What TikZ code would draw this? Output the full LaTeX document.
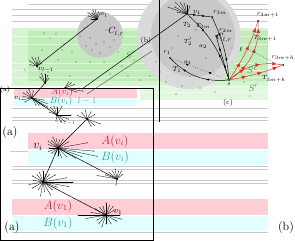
\documentclass[tikz,border=0pt]{standalone}
\usepackage{xcolor}
\usepackage{tikz}
\usetikzlibrary{arrows.meta,positioning,decorations.markings}
\definecolor{BandPink}{RGB}{255,205,214}
\definecolor{BandCyan}{RGB}{226,255,255}
\definecolor{LabelRed}{RGB}{200,30,50}
\definecolor{LabelTeal}{RGB}{20,160,170}
\definecolor{LabelGreen}{RGB}{60,150,80}
\definecolor{ZoneGreen}{RGB}{214,244,210}
\definecolor{ZoneGreenDark}{RGB}{192,236,186}
\definecolor{DiscGray}{RGB}{200,200,200}
\definecolor{DiscGrayLight}{RGB}{218,218,218}
\definecolor{RuleGray}{RGB}{200,200,200}
\definecolor{DotGray}{RGB}{90,90,90}
\definecolor{PathRed}{RGB}{230,40,40}

\newcommand{\hubspokes}[2]{\foreach \a/\r in {#2}{\draw[spoke] (#1.center) -- +(\a:\r) node[tip] {};}}

\begin{document}
\begin{tikzpicture}[x=1pt, y=-1pt,
  hub/.style={circle, fill=black, inner sep=0pt, minimum size=2pt},
  tip/.style={circle, fill=DotGray, inner sep=0pt, minimum size=1.3pt},
  speck/.style={circle, fill=DotGray, inner sep=0pt, minimum size=1.4pt},
  spoke/.style={draw=black, line width=0.3pt},
  edge/.style={draw=black, line width=0.5pt},
  rule/.style={draw=RuleGray, line width=0.8pt},
  lbl/.style={inner sep=0.5pt, font=\scriptsize},
  tinylbl/.style={inner sep=0.3pt, font=\fontsize{6}{7}\selectfont},
  biglbl/.style={inner sep=0.5pt, font=\fontsize{12}{14}\selectfont},
  route/.style={draw=black, line width=0.45pt, postaction={decorate},
    decoration={markings, mark=at position 0.35 with {\arrow{Latex[length=3pt]}},
      mark=at position 0.75 with {\arrow{Latex[length=3pt]}}}},
  redroute/.style={draw=PathRed, line width=0.45pt, postaction={decorate},
    decoration={markings, mark=at position 0.3 with {\arrow[PathRed]{Triangle[length=4pt,width=3.5pt]}},
      mark=at position 0.6 with {\arrow[PathRed]{Triangle[length=4pt,width=3.5pt]}},
      mark=at position 0.9 with {\arrow[PathRed]{Triangle[length=4pt,width=3.5pt]}}}}
]
\useasboundingbox (0,0) rectangle (295,241);

% green zone
\fill[ZoneGreen] (12,28) rectangle (268,86);
\fill[ZoneGreenDark] (28,31) rectangle (268,81);
\fill[ZoneGreen!70!white] (140,86) rectangle (268,100);

% rules
\foreach \y in {9,15,21,108,117,120,166,169,180,183,232} \draw[rule] (12,\y) -- (268,\y);
\draw[rule] (28,4) -- (268,4);
\draw[rule] (10,151) -- (28,151);
\foreach \y in {36,44,63,70,77,86,92} \draw[rule, draw=white, opacity=0.5] (12,\y) -- (268,\y);

% bands
\fill[BandPink] (14,88.5) rectangle (137,97.5);
\fill[BandCyan] (14,98) rectangle (137,106);
\fill[BandPink] (28,133) rectangle (268,149);
\fill[BandCyan] (28,150) rectangle (268,165);
\fill[BandPink] (12,199) rectangle (268,215);
\fill[BandCyan] (12,216) rectangle (268,231);

% discs
\fill[DiscGray] (100,35) circle (23);
\fill[DiscGrayLight] (189,37) circle (52);
\fill[DiscGray] (193,35) circle (42);

% specks
\foreach \p in {(84,28),(90,38),(96,44),(104,42),(110,47),(92,50),(100,53),(114,40),(106,30),(86,46),(118,52),(80,36),
  (44,33),(50,38),(56,34),(64,44),(72,52),(58,60),(76,62),(90,62),(104,62),(122,66),(134,60),(48,72),(70,76),(110,74),
  (128,76),(25,70),(140,80),(62,50),(42,50),(160,38),(165,30),(172,48),(156,62),(150,76),(166,82),(182,86),(200,88),
  (214,72),(206,58),(222,58),(232,48),(178,36),(196,30),(160,72),(190,76),(244,82),(250,96),(215,92),(176,94)}
  \node[speck] at \p {};

% vertices
\node[hub] (vl) at (97,19) {};
\node[hub] (vlprev) at (37,66) {};
\node[hub] (vhop) at (45,83) {};
\node[hub] (vitop) at (32,98) {};
\node[hub] (aitop) at (65,88) {};
\node[hub] (vlmid) at (57,115) {};
\node[hub] (vup) at (87,119) {};
\node[hub] (vimid) at (58,148) {};
\node[hub] (vfar) at (117,179) {};
\node[hub] (vlow) at (43,182) {};
\node[hub] (vone) at (106,215) {};
\node[hub] (vonebig) at (187,14) {};
\node[hub] (rthreem) at (212,17) {};
\node[hub] (rtwom) at (216,36) {};
\node[hub] (rone) at (170,58) {};
\node[hub] (s) at (229,80) {};
\node[hub] (rnext) at (258,21) {};
\node[hub] (rlast) at (283,65) {};
\coordinate (linkA) at (82,89);
\coordinate (linkB) at (87,94);
\coordinate (linkC) at (152,51);
\coordinate (ldotA) at (250,50);
\coordinate (ldotB) at (271,61);

% spokes
\hubspokes{vl}{200/9,215/11,230/8,245/10,260/9,280/7,300/6,180/6}
\hubspokes{vlprev}{190/7,215/9,240/10,260/8,280/9,300/6,330/5}
\hubspokes{vhop}{230/8,250/10,270/9,290/8,310/6}
\hubspokes{vitop}{150/8,170/10,190/9,210/10,230/8,250/9,280/7,10/12,20/16,30/18,35/14,45/10,60/8}
\hubspokes{aitop}{0/14,10/18,20/12,340/10,320/8,300/7}
\hubspokes{vlmid}{200/8,230/10,250/9,270/8,300/10,0/14,20/12,40/10,60/8,100/6}
\hubspokes{vup}{200/10,230/8,260/9,300/8,330/9,20/14,40/10,60/8}
\hubspokes{vimid}{140/8,160/10,180/9,200/10,215/12,230/10,245/12,260/9,280/8,300/10,330/12,350/30,5/36,12/40,20/25,30/20,45/12,70/10,90/8,120/7}
\hubspokes{vfar}{200/12,220/10,240/9,260/10,280/8,300/9,320/7,190/20,100/6}
\hubspokes{vlow}{150/12,170/14,190/10,210/12,230/9,250/10,270/11,290/8,310/10,330/14,350/24,0/30,10/26,20/15,40/12,60/15,80/10,100/14,120/9}
\hubspokes{vone}{150/10,170/20,180/28,190/15,210/12,230/10,250/9,270/12,290/10,310/11,330/9,0/14,30/12,60/10,90/9,110/12,130/11,15/16}
\hubspokes{vonebig}{190/10,210/14,225/16,240/13,255/11,270/9,290/8,200/20}

% edges
\draw[edge] (vlprev) -- (vl);
\draw[edge, dotted, draw=DotGray] (vlprev) -- (vhop);
\draw[edge] (vitop) -- (vhop);
\draw[edge] (vitop) -- (vlmid);
\draw[edge, dotted, draw=DotGray] (vlmid) -- +(1,18);
\draw[edge] (vup) -- (vimid);
\draw[edge] (vimid) -- (vfar);
\draw[edge] (vimid) -- (vlow);
\draw[edge] (vlow) -- (vone);
\draw[edge] (linkA) -- (vonebig);
\draw[edge, draw=DotGray] (linkB) -- (linkC);

% routes in C_{l,r}
\draw[route] (s) to[bend left=25] (rone);
\draw[route, dotted] (s) -- (rone);
\draw[route] (s) to[bend right=15] (vonebig);
\draw[route] (s) to[bend right=10] (rthreem);
\draw[route] (s) -- (rtwom);
\draw[route] (vonebig) -- (rthreem);
\draw[redroute] (s) to[bend right=30] (rnext);
\draw[redroute] (s) to[bend right=8] (rnext);
\draw[redroute] (s) to[bend left=25] (rlast);
\draw[redroute] (s) to[bend right=5] (rlast);
\draw[edge, dotted] (ldotA) -- (ldotB);

% frames
\draw[line width=0.6pt] (0.5,88.5) rectangle (153,240.5);
\draw[line width=0.6pt] (159,0) -- (159,122);

% labels
\node[lbl] (lvl) at (104,15) {$v_l$};
\node[lbl] (lvlprev) at (46,70) {$v_{l-1}$};
\node[lbl, font=\small] (lcsmall) at (116,32) {$C_{l,r}$};
\node[lbl, font=\small, text=LabelGreen] (lsleft) at (130,55) {$S'$};
\node[lbl] (lbtop) at (146,41) {(b)};
\node[lbl] (latop) at (5,90) {(a)};
\node[lbl] (lvitop) at (18,98) {$v_i$};
\node[lbl, font=\small, text=LabelRed] (laitop) at (62,92) {$A(v_i)$};
\node[lbl, font=\small, text=LabelTeal] (lbitop) at (61,101) {$B(v_i)$};
\node[lbl, font=\small, text=DotGray!60] (lprev) at (87,101) {$l-1$};
\node[lbl, text=DotGray] (lvlmid) at (68,123) {$v_{l-1}$};
\node[biglbl] (lamid) at (10,133) {(a)};
\node[biglbl] (lvimid) at (38,147) {$v_i$};
\node[biglbl, text=LabelRed] (laimid) at (115,141) {$A(v_i)$};
\node[biglbl, text=LabelTeal] (lbimid) at (115,157) {$B(v_i)$};
\node[biglbl, text=LabelRed] (laone) at (58,206) {$A(v_1)$};
\node[biglbl, text=LabelTeal] (lbone) at (58,223) {$B(v_1)$};
\node[lbl, font=\small] (lvone) at (118,212) {$v_1$};
\node[biglbl] (lalow) at (12,228) {(a)};
\node[biglbl] (lblow) at (286,228) {(b)};
\node[lbl] (lc) at (228,103) {(c)};

\node[lbl] (lvonebig) at (197,12) {$v_1$};
\node[tinylbl] (lrthreem) at (220,13) {$r_{3m}$};
\node[tinylbl] (lTthreem) at (203,26) {$T_{3m}$};
\node[tinylbl] (lTtwo) at (187,25) {$T_2$};
\node[tinylbl] (lTtwop) at (188,42) {$T_2'$};
\node[tinylbl] (latwo) at (203,47) {$a_2$};
\node[tinylbl] (lrtwom) at (226,31) {$r_{2m}$};
\node[lbl, font=\small] (lcbig) at (224,38) {$C_{l,r}$};
\node[tinylbl] (lrone) at (167,53) {$r_1$};
\node[tinylbl] (lalpha) at (188,63) {$a_1$};
\node[lbl] (lTone) at (177,70) {$T_1$};
\node[tinylbl] (ls) at (229,84) {$s$};
\node[tinylbl] (lrnext) at (268,15) {$r_{3m+1}$};
\node[tinylbl] (lTnext) at (265,38) {$T_{3m+1}$};
\node[tinylbl] (lell) at (241,49) {$\ell$};
\node[tinylbl] (lrlast) at (283,58) {$r_{3m+h}$};
\node[tinylbl] (lTlast) at (274,79) {$T_{3m+h}$};
\node[lbl, font=\small, text=LabelGreen] (lsell) at (252,70) {$S^{\ell}$};
\node[lbl, font=\small, text=LabelGreen] (lsright) at (253,88) {$S'$};
\end{tikzpicture}
\end{document}
